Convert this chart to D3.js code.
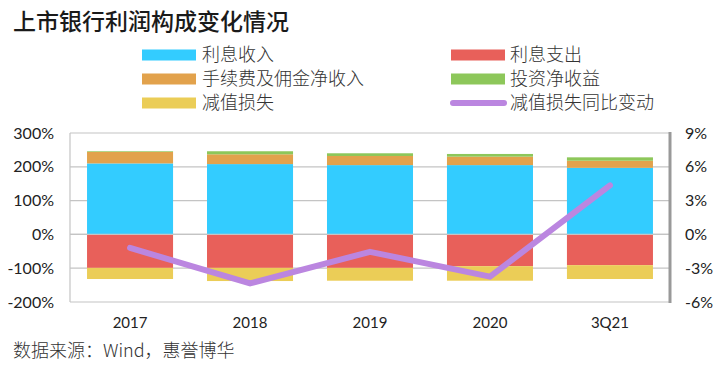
<!DOCTYPE html>
<html>
<head>
<meta charset="utf-8">
<script src="https://cdn.jsdelivr.net/npm/d3@7"></script>
<style>
  html, body { margin: 0; padding: 0; background: #fff; }
  svg { display: block; }
</style>
</head>
<body>
<svg id="chart" width="725" height="367"></svg>
<script>
const categories = ["2017", "2018", "2019", "2020", "3Q21"];
const interestIncome = [210, 208, 205, 205, 197];
const interestExpense = [-99, -99, -99, -94, -91];
const feeIncome = [34, 29, 27, 25, 21];
const investIncome = [2, 9, 8, 8, 10];
const impairment = [-33, -39, -38, -43, -41];
const impairmentYoY = [-1.2, -4.35, -1.55, -3.75, 4.35];
const leftTicks = [-200, -100, 0, 100, 200, 300];
const rightTicks = [-6, -3, 0, 3, 6, 9];

const seriesNames = {
  income: "利息收入", expense: "利息支出", fee: "手续费及佣金净收入",
  invest: "投资净收益", impair: "减值损失", yoy: "减值损失同比变动"
};
const colors = {
  income: "#33ccff", expense: "#e8605a", fee: "#e2a24c",
  invest: "#8dc75a", impair: "#ebcd57", yoy: "#bb86e0"
};

const table = categories.map((c, i) => ({
  cat: c, income: interestIncome[i], expense: interestExpense[i],
  fee: feeIncome[i], invest: investIncome[i], impair: impairment[i]
}));

const svg = d3.select("#chart");
const pL = 70, pR = 670, pT = 133, pB = 302;

const x = d3.scaleBand().domain(categories).range([pL, pR]).paddingInner(0.283).paddingOuter(0.142);
const yL = d3.scaleLinear().domain([-200, 300]).range([pB, pT]);
const yR = d3.scaleLinear().domain([-6, 9]).range([pB, pT]);

const tickFont = "Lato, 'Open Sans', sans-serif";
const cjkFont = "'Noto Sans CJK SC', 'Noto Sans', sans-serif";

// Title
svg.append("text").attr("x", 13).attr("y", 30)
  .attr("font-family", cjkFont).attr("font-size", 23).attr("font-weight", 500)
  .attr("fill", "#1a1a1a").text("上市银行利润构成变化情况");

// Gridlines
svg.append("g").selectAll("line").data(leftTicks).join("line")
  .attr("x1", pL).attr("x2", pR)
  .attr("y1", d => yL(d)).attr("y2", d => yL(d))
  .attr("stroke", "#c4c4c4").attr("stroke-width", 1.2);

// left axis line
svg.append("line").attr("x1", pL).attr("x2", pL).attr("y1", pT).attr("y2", pB)
  .attr("stroke", "#c4c4c4").attr("stroke-width", 1.2);

// Bars
const keys = ["income", "expense", "fee", "invest", "impair"];
const stacked = d3.stack().keys(keys).offset(d3.stackOffsetDiverging)(table);
svg.append("g").selectAll("g").data(stacked).join("g")
  .attr("fill", d => colors[d.key])
  .selectAll("rect").data(d => d).join("rect")
  .attr("x", d => x(d.data.cat))
  .attr("width", x.bandwidth())
  .attr("y", d => yL(Math.max(d[0], d[1])))
  .attr("height", d => Math.abs(yL(d[0]) - yL(d[1])));

// zero line on top of bars
svg.append("line").attr("x1", pL).attr("x2", pR).attr("y1", yL(0)).attr("y2", yL(0))
  .attr("stroke", "#c4c4c4").attr("stroke-width", 1.2);

// right axis line
svg.append("line").attr("x1", pR).attr("x2", pR).attr("y1", pT - 1).attr("y2", pB + 1)
  .attr("stroke", "#999").attr("stroke-width", 3);

// Line
const line = d3.line().x((d, i) => x(categories[i]) + x.bandwidth() / 2).y(d => yR(d));
svg.append("path").datum(impairmentYoY).attr("d", line)
  .attr("fill", "none").attr("stroke", colors.yoy).attr("stroke-width", 6)
  .attr("stroke-linejoin", "round").attr("stroke-linecap", "round");

// Left axis labels
const axL = d3.axisLeft(yL).tickValues(leftTicks).tickFormat(d => d + "%").tickSize(0).tickPadding(16);
const gL = svg.append("g").attr("transform", `translate(${pL},0)`).call(axL);
gL.select(".domain").remove();
gL.selectAll("text").attr("font-family", tickFont).attr("font-size", 16).attr("fill", "#222");

// Right axis labels
const axR = d3.axisRight(yR).tickValues(rightTicks).tickFormat(d => d + "%").tickSize(0).tickPadding(15);
const gR = svg.append("g").attr("transform", `translate(${pR},0)`).call(axR);
gR.select(".domain").remove();
gR.selectAll("text").attr("font-family", tickFont).attr("font-size", 16).attr("fill", "#222");

// X labels
const axX = d3.axisBottom(x).tickSize(0).tickPadding(15);
const gX = svg.append("g").attr("transform", `translate(0,${pB})`).call(axX);
gX.select(".domain").remove();
gX.selectAll("text").attr("font-family", tickFont).attr("font-size", 15).attr("fill", "#222");

// Legend
const legend = [
  {k: "income", col: 0, row: 0}, {k: "expense", col: 1, row: 0},
  {k: "fee", col: 0, row: 1}, {k: "invest", col: 1, row: 1},
  {k: "impair", col: 0, row: 2}, {k: "yoy", col: 1, row: 2}
];
const colX = [142, 451], rowY = [55, 79, 103];
const lg = svg.append("g").selectAll("g").data(legend).join("g")
  .attr("transform", d => `translate(${colX[d.col]},${rowY[d.row]})`);
lg.filter(d => d.k !== "yoy").append("rect")
  .attr("x", 0).attr("y", -5.5).attr("width", 54).attr("height", 11)
  .attr("fill", d => colors[d.k]);
lg.filter(d => d.k === "yoy").append("line")
  .attr("x1", 2).attr("x2", 53).attr("y1", 0).attr("y2", 0)
  .attr("stroke", colors.yoy).attr("stroke-width", 6).attr("stroke-linecap", "round");
lg.append("text").attr("x", d => d.col === 0 ? 60 : 59).attr("y", 0).attr("dy", "0.36em")
  .attr("font-family", cjkFont).attr("font-size", 18).attr("font-weight", 300).attr("fill", "#333")
  .text(d => seriesNames[d.k]);

// Source
svg.append("text").attr("x", 13).attr("y", 357)
  .attr("font-family", cjkFont).attr("font-size", 18).attr("font-weight", 300).attr("fill", "#333")
  .text("数据来源：Wind，惠誉博华");
</script>
</body>
</html>
